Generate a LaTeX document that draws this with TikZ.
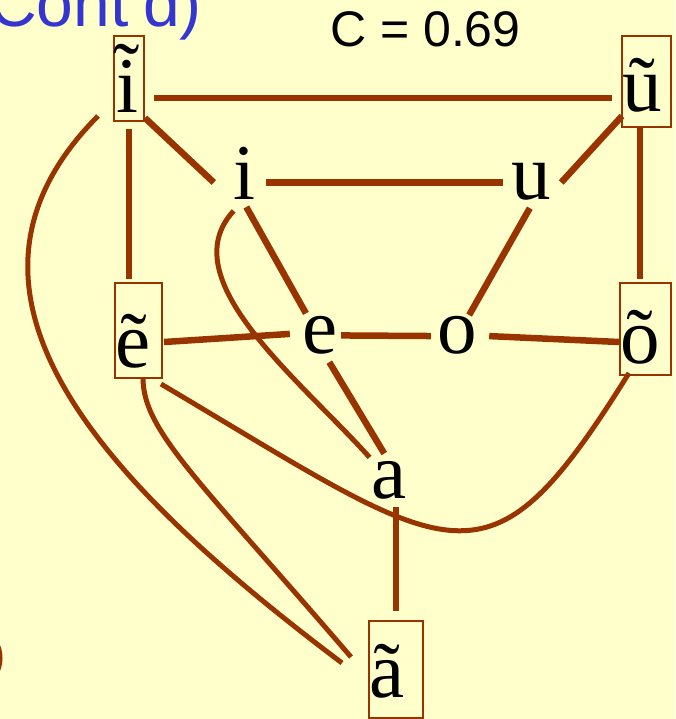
\documentclass[tikz,border=0pt]{standalone}
\usepackage{fontspec}
\setmainfont{Liberation Serif}
\newfontfamily\sansf{Liberation Sans}
\definecolor{bg}{HTML}{FFFFCC}
\definecolor{brn}{HTML}{993300}
\definecolor{blu}{HTML}{3535D0}
\begin{document}
\begin{tikzpicture}[x=1pt,y=-1pt,
  edge/.style={draw=brn, line width=6.5pt},
  curveedge/.style={draw=brn, line width=5pt},
  letter/.style={circle, inner sep=0pt, minimum size=60pt, text height=35pt, text depth=0pt, font=\fontsize{79}{80}\selectfont},
  tbox/.style={draw=brn, line width=2pt, rectangle, inner sep=0pt, text depth=0pt, fill=bg, font=\fontsize{79}{80}\selectfont}]
\fill[bg] (0,0) rectangle (675,719);
\useasboundingbox (0,0) rectangle (675,719);
\clip (0,0) rectangle (675,719);

% titles
\node[font=\sansf\fontsize{66}{66}\selectfont, text=blu, anchor=base east, inner sep=0pt] (contd) at (202,27) {Cont’d)};
\node[font=\sansf\fontsize{50}{55}\selectfont, anchor=base west, inner sep=0pt] (cval) at (330,47) {C = 0.69};

% boxed nasal vowels
\node[tbox, minimum width=30pt, minimum height=85pt, text height=69pt] (ti) at (129,78.5) {\makebox[30pt][l]{\hspace{2pt}\accent"02DC i}};
\node[tbox, minimum width=49pt, minimum height=91pt, text height=61pt] (tu) at (646.5,81.5) {\makebox[49pt][l]{ũ}};
\node[tbox, minimum width=47pt, minimum height=95pt, text height=73pt] (te) at (138.5,330.5) {\makebox[47pt][l]{ẽ}};
\node[tbox, minimum width=51pt, minimum height=92pt, text height=68pt] (to) at (645.5,329) {\makebox[51pt][l]{õ}};
\node[tbox, minimum width=54pt, minimum height=97pt, text height=55pt] (ta) at (396,669.5) {\makebox[54pt][l]{ã}};

% oral vowels
\node[letter] (i) at (244,182.5) {i};
\node[letter] (u) at (531,182.5) {u};
\node[letter] (e) at (320,335.5) {e};
\node[letter] (o) at (457,336) {o};
\node[letter] (a) at (389,480.5) {a};

% connectors
\draw[edge, shorten <=9pt, shorten >=9pt] ([shift={(0,19.5)}]ti.east) -- ([shift={(0,16.5)}]tu.west);
\draw[edge] ([shift={(0,-4)}]ti.south east) -- (i.west);
\draw[edge, shorten <=7pt, shorten >=3pt] (ti.south) -- (ti.south |- te.north);
\draw[curveedge] ([shift={(-15,-6)}]ti.south west) .. controls +(-174,175) and +(-243,-183) .. ([shift={(-26,-6.5)}]ta.west);
\draw[edge] ([shift={(1,-12)}]tu.south west) -- (u.east);
\draw[edge] ([shift={(-6.5,0)}]tu.south) -- ([shift={(-5.5,-3)}]to.north);
\draw[edge, shorten <=-8pt, shorten >=-2pt] (i.east) -- (u.west);
\draw[edge, shorten <=-6pt, shorten >=-4pt] (i.-80) -- (e.122);
\draw[curveedge] (i.-110) .. controls +(-63,68) and +(-70,-78) .. (a.130);
\draw[edge, shorten <=-5pt, shorten >=-6pt] (u.-97) -- (o.60);
\draw[edge] ([shift={(1,11.5)}]te.east) -- (e.177);
\draw[edge, shorten <=-9pt, shorten >=-4pt] (e.east) -- (o.west);
\draw[edge, shorten <=2pt] (o.east) -- ([shift={(0,13)}]to.west);
\draw[edge, shorten <=-2pt, shorten >=-3pt] (e.-70) -- (a.102);
\draw[curveedge] ([shift={(4.5,-1)}]te.south) .. controls +(0,53) and +(-152,-177) .. ([shift={(-17,-12.5)}]ta.west);
\draw[curveedge] ([shift={(-2,5)}]te.south east) .. controls +(297,176) and +(-143,229.5) .. ([shift={(-16.5,-3)}]to.south);
\draw[edge, shorten <=9pt, shorten >=-3.5pt] (ta.north) -- (ta.north |- a.south);

% partial bracket at bottom left
\draw[curveedge] (-14,658) ellipse [x radius=14pt, y radius=22pt];
\end{tikzpicture}
\end{document}
